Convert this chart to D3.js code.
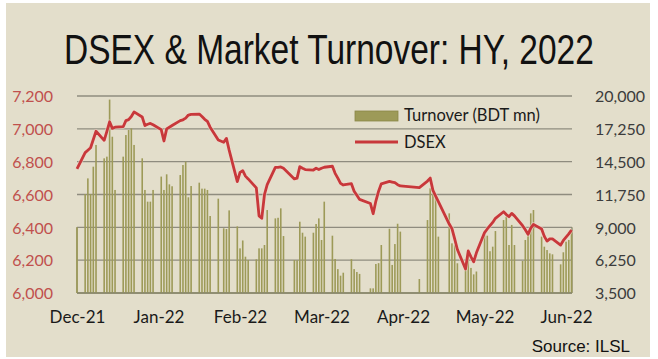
<!DOCTYPE html>
<html>
<head>
<meta charset="utf-8">
<script src="https://cdn.jsdelivr.net/npm/d3@7"></script>
<style>
html,body{margin:0;padding:0;background:#ffffff;}
svg{display:block;}
</style>
</head>
<body>
<svg id="chart" width="658" height="359"></svg>
<script>
// ---------- DATA ----------
const title = "DSEX & Market Turnover: HY, 2022";
const source = "Source: ILSL";
const seriesNames = ["Turnover (BDT mn)", "DSEX"];

const dates = [
"2021-12-30",
"2022-01-02","2022-01-03","2022-01-04","2022-01-05","2022-01-06",
"2022-01-09","2022-01-10","2022-01-11","2022-01-12","2022-01-13",
"2022-01-16","2022-01-17","2022-01-18","2022-01-19","2022-01-20",
"2022-01-23","2022-01-24","2022-01-25","2022-01-26","2022-01-27",
"2022-01-30","2022-01-31","2022-02-01","2022-02-02","2022-02-03",
"2022-02-06","2022-02-07","2022-02-08","2022-02-09","2022-02-10",
"2022-02-13","2022-02-14","2022-02-15","2022-02-16","2022-02-17",
"2022-02-20","2022-02-22","2022-02-23","2022-02-24",
"2022-02-27","2022-02-28","2022-03-01","2022-03-02","2022-03-03",
"2022-03-06","2022-03-07","2022-03-08","2022-03-09","2022-03-10",
"2022-03-13","2022-03-14","2022-03-15","2022-03-16",
"2022-03-20","2022-03-21","2022-03-22","2022-03-23","2022-03-24",
"2022-03-27","2022-03-28","2022-03-29","2022-03-30","2022-03-31",
"2022-04-03","2022-04-04","2022-04-05","2022-04-06","2022-04-07",
"2022-04-10","2022-04-11","2022-04-12","2022-04-13",
"2022-04-17","2022-04-18","2022-04-19","2022-04-20","2022-04-21",
"2022-04-24","2022-04-25","2022-04-26","2022-04-27","2022-04-28",
"2022-05-05",
"2022-05-08","2022-05-09","2022-05-10","2022-05-11","2022-05-12",
"2022-05-16","2022-05-17","2022-05-18","2022-05-19",
"2022-05-22","2022-05-23","2022-05-24","2022-05-25","2022-05-26",
"2022-05-29","2022-05-30","2022-05-31","2022-06-01","2022-06-02",
"2022-06-05","2022-06-06","2022-06-07","2022-06-08","2022-06-09",
"2022-06-12","2022-06-13","2022-06-14","2022-06-15","2022-06-16",
"2022-06-19","2022-06-20","2022-06-21","2022-06-22","2022-06-23",
"2022-06-26","2022-06-27","2022-06-28","2022-06-29","2022-06-30"
];

const dsex = [
6756,
6855,6870,6885,6935,6985,
6930,6985,7043,7003,7010,
7013,7050,7056,7075,7103,
7072,7020,7028,7033,7025,
6995,6926,7000,7010,7020,
7050,7055,7065,7084,7088,
7090,7075,7058,7045,7010,
6932,6918,6942,6870,
6678,6735,6745,6712,6695,
6640,6470,6455,6600,6660,
6765,6765,6768,6760,
6695,6700,6770,6760,6752,
6749,6760,6752,6760,6766,
6772,6729,6700,6668,6658,
6666,6620,6595,6570,
6545,6483,6560,6620,6665,
6680,6676,6672,6660,6652,
6642,
6682,6700,6625,6590,6556,
6420,6392,6330,6265,
6146,6256,6220,6190,6245,
6368,6390,6410,6430,6455,
6495,6478,6465,6485,6470,
6410,6385,6357,6395,6418,
6390,6345,6316,6330,6330,
6292,6320,6340,6360,6384
];

const turnover = [
9000,
11790,13100,11790,14080,15900,
14780,14920,19700,16590,12130,
14920,16730,17150,17290,15900,
14780,12130,11150,11150,12130,
13250,12130,13440,12600,12440,
13380,14220,14500,11515,12460,
12740,12240,12240,12130,9950,
11400,8920,8860,10420,
9080,7240,7900,6540,6260,
6320,7240,7240,7520,10450,
9750,9800,10590,8270,
6260,6240,9470,8550,8220,
8550,9280,9750,7940,11150,
8300,6350,5500,4950,5200,
6330,5500,5260,5100,
3890,3890,5930,6000,7520,
8880,5850,7600,9300,8640,
4670,
9610,12270,11850,11570,8220,
10170,7660,7500,5990,
5850,7100,5600,5060,5300,
8500,8300,7000,7380,8690,
9610,9890,7520,9200,7520,
6180,7940,8500,10170,10450,
8220,7380,7100,6820,6740,
5900,6910,7800,7940,8640
];

const leftTicks = [6000, 6200, 6400, 6600, 6800, 7000, 7200];
const rightTicks = [3500, 6250, 9000, 11750, 14500, 17250, 20000];
const xStart = "2021-12-30";
const xEnd = "2022-06-30";
const xTickStepDays = 30;

// ---------- CHART ----------
const parse = d3.utcParse("%Y-%m-%d");
const rows = dates.map((d, i) => ({date: parse(d), dsex: dsex[i], turnover: turnover[i]}));

const svg = d3.select("#chart");
const plot = {left: 77, right: 571.5, top: 96, bottom: 293};
const uiFont = "Lato, 'Open Sans', sans-serif";

svg.append("rect").attr("x", 6).attr("y", 3).attr("width", 644).attr("height", 354)
  .attr("fill", "#e3decb");

const x = d3.scaleUtc().domain([parse(xStart), parse(xEnd)]).range([plot.left, plot.right]);
const yL = d3.scaleLinear().domain([6000, 7200]).range([plot.bottom, plot.top]);
const yR = d3.scaleLinear().domain([3500, 20000]).range([plot.bottom, plot.top]);

// gridlines
const gridColor = "#8f8c7f";
svg.append("g").selectAll("line").data(leftTicks).join("line")
  .attr("x1", plot.left).attr("x2", plot.right + 0.5)
  .attr("y1", d => yL(d)).attr("y2", d => yL(d))
  .attr("stroke", gridColor).attr("stroke-width", 1.3);

// lower frame lines
svg.append("g").selectAll("line").data([plot.left, plot.right + 0.5]).join("line")
  .attr("x1", d => d).attr("x2", d => d)
  .attr("y1", yL(6400)).attr("y2", yL(6000))
  .attr("stroke", "#8a8868").attr("stroke-width", 1.3);

// bars
svg.append("g").selectAll("rect").data(rows).join("rect")
  .attr("x", d => x(d.date) - 0.8)
  .attr("width", 1.6)
  .attr("y", d => yR(d.turnover))
  .attr("height", d => plot.bottom - yR(d.turnover))
  .attr("fill", "#9d9a58");

// line
const line = d3.line().x(d => x(d.date)).y(d => yL(d.dsex));
svg.append("path").datum(rows).attr("d", line)
  .attr("fill", "none").attr("stroke", "#f0d8cc").attr("stroke-width", 4.4)
  .attr("stroke-linejoin", "round").attr("opacity", 0.6);
svg.append("path").datum(rows).attr("d", line)
  .attr("fill", "none").attr("stroke", "#c8383b").attr("stroke-width", 2.8)
  .attr("stroke-linejoin", "round");

// left axis
const axL = d3.axisLeft(yL).tickValues(leftTicks).tickFormat(d3.format(",")).tickSize(0).tickPadding(0);
const gL = svg.append("g").attr("transform", "translate(53,0)").call(axL);
gL.select(".domain").remove();
gL.selectAll("text").attr("fill", "#c0504d").attr("font-family", uiFont)
  .attr("font-size", 16).attr("dy", "0.36em");

// right axis
const axR = d3.axisRight(yR).tickValues(rightTicks).tickFormat(d3.format(",")).tickSize(0).tickPadding(0);
const gR = svg.append("g").attr("transform", "translate(595,0)").call(axR);
gR.select(".domain").remove();
gR.selectAll("text").attr("fill", "#3c3c3c").attr("font-family", uiFont)
  .attr("font-size", 16).attr("dy", "0.36em");

// x axis
const xTicks = d3.range(0, 7).map(k => d3.utcDay.offset(parse(xStart), k * xTickStepDays));
const axX = d3.axisBottom(x).tickValues(xTicks).tickFormat(d3.utcFormat("%b-%y")).tickSize(0).tickPadding(0);
const gX = svg.append("g").attr("transform", "translate(0,323)").call(axX);
gX.select(".domain").remove();
gX.selectAll("text").attr("fill", "#1a1a1a").attr("font-family", uiFont)
  .attr("font-size", 17).attr("dy", "0");

// bottom axis line
svg.append("line").attr("x1", plot.left).attr("x2", plot.right + 0.5)
  .attr("y1", plot.bottom).attr("y2", plot.bottom).attr("stroke", "#8a8868").attr("stroke-width", 1.3);

// title (condensed by horizontal scaling to the reference width)
const titleG = svg.append("g");
const titleT = titleG.append("text").attr("x", 0).attr("y", 0)
  .attr("font-family", "'Liberation Sans Narrow', 'Arial Narrow', 'Liberation Sans', sans-serif")
  .attr("font-size", 43).attr("fill", "#111")
  .text(title);
const tw = titleT.node().getComputedTextLength();
const targetW = 530;
const sx = targetW / tw;
titleG.attr("transform", `translate(${329 - targetW / 2},64) scale(${sx},1)`);

// legend
const lg = svg.append("g");
lg.append("rect").attr("x", 355).attr("y", 111).attr("width", 43).attr("height", 10)
  .attr("fill", "#9d9a58").attr("stroke", "#8a8748").attr("stroke-width", 0.8);
lg.append("text").attr("x", 404).attr("y", 121).attr("font-family", uiFont)
  .attr("font-size", 16.5).attr("fill", "#1a1a1a").text(seriesNames[0]);
lg.append("line").attr("x1", 355).attr("x2", 398).attr("y1", 142).attr("y2", 142)
  .attr("stroke", "#c8383b").attr("stroke-width", 2.8);
lg.append("text").attr("x", 404).attr("y", 148).attr("font-family", uiFont)
  .attr("font-size", 16.5).attr("fill", "#1a1a1a").text(seriesNames[1]);

// source
svg.append("text").attr("x", 630).attr("y", 352).attr("text-anchor", "end")
  .attr("font-family", "'Liberation Sans', Arial, sans-serif").attr("font-size", 17)
  .attr("fill", "#111").text(source);
</script>
</body>
</html>
